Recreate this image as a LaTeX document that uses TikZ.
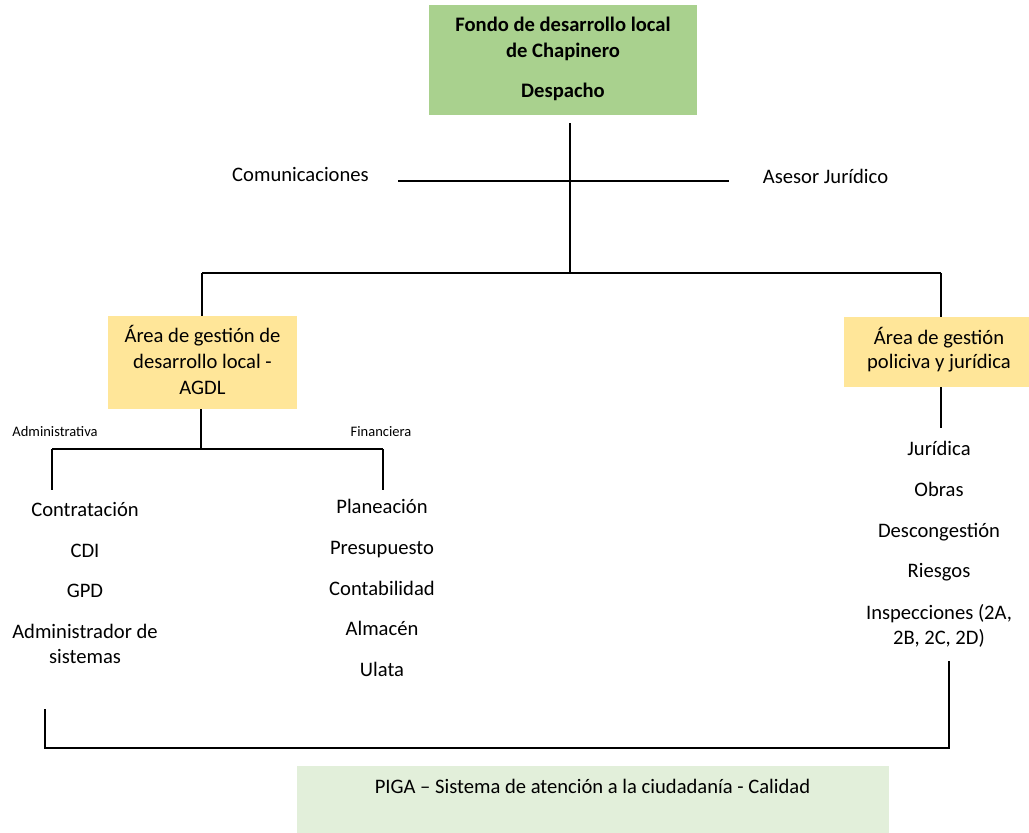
\documentclass[tikz,border=0pt]{standalone}
\usepackage{fontspec}
\setmainfont{Carlito}
\usetikzlibrary{calc}
\definecolor{boxgreen}{HTML}{A9D18E}
\definecolor{boxyellow}{HTML}{FFE699}
\definecolor{boxpale}{HTML}{E2EFDA}
\begin{document}
\begin{tikzpicture}[x=1pt,y=-1pt,
  txt/.style={anchor=base,inner sep=0pt,font=\fontsize{20.6}{25}\selectfont},
  btxt/.style={anchor=base,inner sep=0pt,font=\fontsize{20.6}{25}\selectfont\bfseries},
  smalltxt/.style={anchor=base,inner sep=0pt,font=\fontsize{14.5}{17}\selectfont},
  orgbox/.style={draw=none,inner sep=0pt,anchor=north west},
  conn/.style={draw=black,line width=1.6pt}]
\useasboundingbox (0,0) rectangle (1029,833);
% boxes
\node[orgbox,fill=boxgreen,minimum width=268pt,minimum height=110pt] (top) at (429,5) {};
\node[orgbox,fill=boxyellow,minimum width=189pt,minimum height=93pt] (agdl) at (108,316) {};
\node[orgbox,fill=boxyellow,minimum width=190pt,minimum height=70pt] (pol) at (844,317) {};
\node[orgbox,fill=boxpale,minimum width=592pt,minimum height=67pt] (piga) at (297,766) {};
% box texts
\node[btxt] (t1) at (563,31) {Fondo de desarrollo local};
\node[btxt] (t2) at (563,57) {de Chapinero};
\node[btxt] (t3) at (563,97) {Despacho};
\node[txt] (a1) at (202.5,342) {Área de gestión de};
\node[txt] (a2) at (202.5,368) {desarrollo local -};
\node[txt] (a3) at (202.5,394) {AGDL};
\node[txt] (p1) at (939,344) {Área de gestión};
\node[txt] (p2) at (939,368) {policiva y jurídica};
\node[txt] (pg) at (592.5,793) {PIGA – Sistema de atención a la ciudadanía - Calidad};
% staff
\node[txt] (com) at (300.5,181) {Comunicaciones};
\node[txt] (ase) at (825.5,183) {Asesor Jurídico};
% small labels
\node[smalltxt] (adm) at (55,436) {Administrativa};
\node[smalltxt] (fin) at (381,436) {Financiera};
% left list
\node[txt] (l1) at (85,516) {Contratación};
\node[txt] (l2) at (85,557) {CDI};
\node[txt] (l3) at (85,597) {GPD};
\node[txt] (l4) at (85,638) {Administrador de};
\node[txt] (l5) at (85,663) {sistemas};
% middle list
\node[txt] (m1) at (382,513) {Planeación};
\node[txt] (m2) at (382,554) {Presupuesto};
\node[txt] (m3) at (382,595) {Contabilidad};
\node[txt] (m4) at (382,635) {Almacén};
\node[txt] (m5) at (382,676) {Ulata};
% right list
\node[txt] (r1) at (939,455) {Jurídica};
\node[txt] (r2) at (939,496) {Obras};
\node[txt] (r3) at (939,537) {Descongestión};
\node[txt] (r4) at (939,577) {Riesgos};
\node[txt] (r5) at (939,619) {Inspecciones (2A,};
\node[txt] (r6) at (939,644) {2B, 2C, 2D)};
% connectors
\coordinate (j0) at (570,123);
\coordinate (j1) at (570,273);
\coordinate (cl) at (398,181);
\coordinate (cr) at (729,181);
\coordinate (hl) at (202,273);
\coordinate (hr) at (941,273);
\coordinate (aj) at (201,449);
\coordinate (al) at (52,449);
\coordinate (ar) at (383,449);
\coordinate (al2) at (52,490);
\coordinate (ar2) at (383,490);
\coordinate (pj) at (941,428);
\coordinate (bl0) at (45,709);
\coordinate (bl) at (45,748);
\coordinate (br) at (949,748);
\coordinate (br0) at (949,661);
\draw[conn] (j0) -- (j1);
\draw[conn] (cl) -- (cr);
\draw[conn] (hl) -- (hr);
\draw[conn] (hl) -- (hl |- agdl.north);
\draw[conn] (hr) -- (hr |- pol.north);
\draw[conn] (aj |- agdl.south) -- (aj);
\draw[conn] (al) -- (ar);
\draw[conn] (al) -- (al2);
\draw[conn] (ar) -- (ar2);
\draw[conn] (pj |- pol.south) -- (pj);
\draw[conn] (bl0) -- (bl) -- (br) -- (br0);
\end{tikzpicture}
\end{document}
